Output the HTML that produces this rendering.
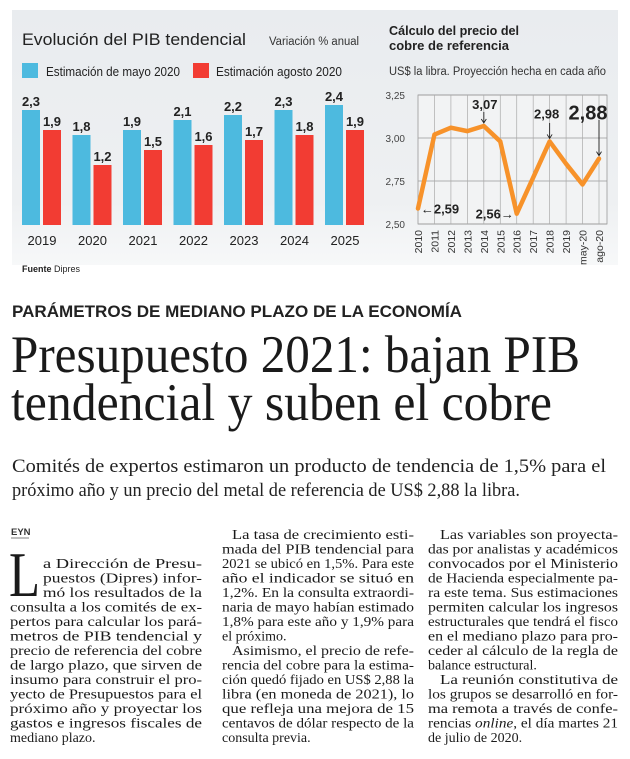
<!DOCTYPE html>
<html><head><meta charset="utf-8">
<style>
html,body{margin:0;padding:0;background:#fff;width:630px;height:759px;overflow:hidden}
svg{display:block}
.sans{font-family:"Liberation Sans",sans-serif}
.serif{font-family:"Liberation Serif",serif}
</style></head>
<body>
<svg id="page" width="630" height="759" viewBox="0 0 630 759" xmlns="http://www.w3.org/2000/svg">
  <defs>
    <linearGradient id="bgg" x1="0" y1="0" x2="0" y2="1">
      <stop offset="0" stop-color="#e9ecef"/><stop offset="0.75" stop-color="#eef0f2"/><stop offset="1" stop-color="#f7f8f9"/>
    </linearGradient>
  </defs>
  <rect x="12" y="10" width="606" height="255" fill="url(#bgg)"/>

  <g id="barchart" class="sans">
    <text x="22" y="45" font-size="17" fill="#222" textLength="224" lengthAdjust="spacingAndGlyphs">Evolución del PIB tendencial</text>
    <text x="269" y="45" font-size="11.5" fill="#333" textLength="90" lengthAdjust="spacingAndGlyphs">Variación % anual</text>
    <rect x="22" y="63" width="16" height="15" fill="#4dbadf"/>
    <text x="46" y="76" font-size="12.5" fill="#222" textLength="134" lengthAdjust="spacingAndGlyphs">Estimación de mayo 2020</text>
    <rect x="193" y="63" width="16" height="15" fill="#f23c33"/>
    <text x="216" y="76" font-size="12.5" fill="#222" textLength="126" lengthAdjust="spacingAndGlyphs">Estimación agosto 2020</text>
    <g id="bars"></g>
    <text x="22" y="272" font-size="9" fill="#222"><tspan font-weight="bold">Fuente</tspan> Dipres</text>
  </g>

  <g id="linechart" class="sans">
    <text x="389" y="35" font-size="13" font-weight="bold" fill="#222" textLength="130" lengthAdjust="spacingAndGlyphs">Cálculo del precio del</text>
    <text x="389" y="50" font-size="13" font-weight="bold" fill="#222" textLength="120" lengthAdjust="spacingAndGlyphs">cobre de referencia</text>
    <text x="389" y="75" font-size="11.5" fill="#333" textLength="217" lengthAdjust="spacingAndGlyphs">US$ la libra. Proyección hecha en cada año</text>
    <g id="lineplot"></g>
  </g>

  <text class="sans" x="12" y="317" font-size="17" font-weight="bold" fill="#222" textLength="450" lengthAdjust="spacingAndGlyphs">PARÁMETROS DE MEDIANO PLAZO DE LA ECONOMÍA</text>
  <text class="serif" x="11" y="372" font-size="53" fill="#1a1a1a" textLength="569" lengthAdjust="spacingAndGlyphs">Presupuesto 2021: bajan PIB</text>
  <text class="serif" x="11" y="420" font-size="53" fill="#1a1a1a" textLength="541" lengthAdjust="spacingAndGlyphs">tendencial y suben el cobre</text>
  <text class="serif" x="12" y="472" font-size="18.5" fill="#222" textLength="594" lengthAdjust="spacingAndGlyphs">Comités de expertos estimaron un producto de tendencia de 1,5% para el</text>
  <text class="serif" x="12" y="496" font-size="18.5" fill="#222" textLength="508" lengthAdjust="spacingAndGlyphs">próximo año y un precio del metal de referencia de US$ 2,88 la libra.</text>

  <text class="sans" x="11" y="535" font-size="9.5" font-weight="bold" fill="#333">EYN</text>
  <line x1="11" y1="538" x2="29" y2="538" stroke="#555" stroke-width="0.7"/>
  <text class="serif" x="9" y="596" font-size="64" fill="#1a1a1a" textLength="31" lengthAdjust="spacingAndGlyphs">L</text>
  <g id="body" class="serif" font-size="14" fill="#1a1a1a"></g>
</svg>

<script>
const years = ["2019","2020","2021","2022","2023","2024","2025"];
const mayValues = [2.3, 1.8, 1.9, 2.1, 2.2, 2.3, 2.4];
const augValues = [1.9, 1.2, 1.5, 1.6, 1.7, 1.8, 1.9];
const mayLabels = ["2,3","1,8","1,9","2,1","2,2","2,3","2,4"];
const augLabels = ["1,9","1,2","1,5","1,6","1,7","1,8","1,9"];

const copperCats = ["2010","2011","2012","2013","2014","2015","2016","2017","2018","2019","may-20","ago-20"];
const copperValues = [2.59, 3.02, 3.06, 3.04, 3.07, 2.98, 2.56, 2.77, 2.98, 2.85, 2.73, 2.88];
const copperTicks = [2.50, 2.75, 3.00, 3.25];
const copperTickLabels = ["2,50","2,75","3,00","3,25"];

const NS = "http://www.w3.org/2000/svg";
function mk(tag, attrs, parent){
  const e = document.createElementNS(NS, tag);
  for (const k in attrs) e.setAttribute(k, attrs[k]);
  parent.appendChild(e); return e;
}

(function(){
  const g = document.getElementById("bars");
  const base = 225, unit = 50, x0 = 22, pitch = 50.5, bw = 18;
  const yS = v => base - v * unit;
  years.forEach((yr, i) => {
    const gx = x0 + i * pitch;
    const b1 = mk("rect", {x: gx, y: yS(mayValues[i]), width: bw, height: base - yS(mayValues[i]), fill: "#4dbadf"}, g);
    
    
    const b2 = mk("rect", {x: gx + 21, y: yS(augValues[i]), width: bw, height: base - yS(augValues[i]), fill: "#f23c33"}, g);
    
    
    const l1 = mk("text", {x: gx + bw/2, y: yS(mayValues[i]) - 4, "font-size": 13, "font-weight": "bold", fill: "#222", "text-anchor": "middle"}, g);
    l1.textContent = mayLabels[i];
    
    
    const l2 = mk("text", {x: gx + 21 + bw/2, y: yS(augValues[i]) - 4, "font-size": 13, "font-weight": "bold", fill: "#222", "text-anchor": "middle"}, g);
    l2.textContent = augLabels[i];
    
    
    const t = mk("text", {x: gx + 20, y: 245, "font-size": 13, fill: "#222", "text-anchor": "middle"}, g);
    t.textContent = yr;
    
    
  });
})();

(function(){
  const g = document.getElementById("lineplot");
  const left = 418, right = 607, top = 95, bottom = 224;
  const vmin = 2.5, vmax = 3.25;
  const step = (599 - left) / (copperCats.length - 1);
  const xS = i => left + i * step;
  const yS = v => bottom - (v - vmin) / (vmax - vmin) * (bottom - top);
  const bg = mk("rect", {x: left, y: top, width: right-left, height: bottom-top, fill: "#f2f3f4", stroke: "#999", "stroke-width": 0.8}, g);
  
  
  copperTicks.forEach((v, k) => {
    const gl = mk("line", {x1: left, x2: right, y1: yS(v), y2: yS(v), stroke: "#999", "stroke-width": 0.8}, g);
    
    
    const t = mk("text", {x: 405, y: yS(v) + 4, "font-size": 10, fill: "#444", "text-anchor": "end"}, g);
    t.textContent = copperTickLabels[k];
    
    
  });
  copperCats.forEach((c, i) => {
    const gl = mk("line", {x1: xS(i), x2: xS(i), y1: top, y2: bottom, stroke: "#aaa", "stroke-width": 0.7}, g);
    
    
    const t = mk("text", {x: 0, y: 0, "font-size": 10.5, fill: "#333", "text-anchor": "end", transform: "translate(" + (xS(i) + 4) + "," + (bottom + 6) + ") rotate(-90)"}, g);
    t.textContent = c;
    
    
  });
  const pts = copperValues.map((v, i) => xS(i) + "," + yS(v)).join(" ");
  const pl = mk("polyline", {points: pts, fill: "none", stroke: "#f7922a", "stroke-width": 4.5, "stroke-linejoin": "round", "stroke-linecap": "round"}, g);
  
  

  function ann(i, label, dx, dy, size, name){
    const t = mk("text", {x: xS(i) + dx, y: yS(copperValues[i]) + dy, "font-size": size, "font-weight": "bold", fill: "#222", "text-anchor": "middle"}, g);
    t.textContent = label;
    
    
  }
  function arrowDown(i, y1, name){
    const x = xS(i), y2 = yS(copperValues[i]) - 3;
    const a = mk("path", {d: "M" + x + "," + y1 + " L" + x + "," + y2 + " M" + (x-2.5) + "," + (y2-4) + " L" + x + "," + y2 + " L" + (x+2.5) + "," + (y2-4), stroke: "#222", "stroke-width": 0.9, fill: "none"}, g);
    
    
  }
  ann(0, "←2,59", 22, 5, 13, "annotation-2010");
  ann(4, "3,07", 1, -17, 13, "annotation-2014");
  arrowDown(4, 112, "arrow-2014");
  ann(6, "2,56→", -22, 5, 13, "annotation-2016");
  ann(8, "2,98", -3, -23, 13, "annotation-2018");
  arrowDown(8, 123, "arrow-2018");
  ann(11, "2,88", -11, -39, 20, "annotation-ago-20");
  arrowDown(11, 120, "arrow-ago-20");
})();

const col1 = [
  ["a Dirección de Presu-",43,202,2,1],["puestos (Dipres) infor-",43,202,3,1],["mó los resultados de la",43,202,4,1],
  ["consulta a los comités de ex-",10,202,5,1],["pertos para calcular los pará-",10,202,6,1],["metros de PIB tendencial y",10,202,7,1],
  ["precio de referencia del cobre",10,202,8,1],["de largo plazo, que sirven de",10,202,9,1],["insumo para construir el pro-",10,202,10,1],
  ["yecto de Presupuestos para el",10,202,11,1],["próximo año y proyectar los",10,202,12,1],["gastos e ingresos fiscales de",10,202,13,1],
  ["mediano plazo.",10,0,14,0]
];
const col2 = [
  ["La tasa de crecimiento esti-",232,414,0,1],["mada del PIB tendencial para",222,414,1,1],["2021 se ubicó en 1,5%. Para este",222,414,2,1],
  ["año el indicador se situó en",222,414,3,1],["1,2%. En la consulta extraordi-",222,414,4,1],["naria de mayo habían estimado",222,414,5,1],
  ["1,8% para este año y 1,9% para",222,414,6,1],["el próximo.",222,0,7,0],["Asimismo, el precio de refe-",232,414,8,1],
  ["rencia del cobre para la estima-",222,414,9,1],["ción quedó fijado en US$ 2,88 la",222,414,10,1],["libra (en moneda de 2021), lo",222,414,11,1],
  ["que refleja una mejora de 15",222,414,12,1],["centavos de dólar respecto de la",222,414,13,1],["consulta previa.",222,0,14,0]
];
const col3 = [
  ["Las variables son proyecta-",440,618,0,1],["das por analistas y académicos",428,618,1,1],["convocados por el Ministerio",428,618,2,1],
  ["de Hacienda especialmente pa-",428,618,3,1],["ra este tema. Sus estimaciones",428,618,4,1],["permiten calcular los ingresos",428,618,5,1],
  ["estructurales que tendrá el fisco",428,618,6,1],["en el mediano plazo para pro-",428,618,7,1],["ceder al cálculo de la regla de",428,618,8,1],
  ["balance estructural.",428,0,9,0],["La reunión constitutiva de",440,618,10,1],["los grupos se desarrolló en for-",428,618,11,1],
  ["ma remota a través de confe-",428,618,12,1],["rencias <i>online</i>, el día martes 21",428,618,13,1],["de julio de 2020.",428,0,14,0]
];
(function(){
  const g = document.getElementById("body");
  [col1, col2, col3].forEach((col, ci) => {
    col.forEach((ln, li) => {
      const [txt, x, xr, row, just] = ln;
      const t = mk("text", {x: x, y: 539 + row * 14.5}, g);
      if (just) { t.setAttribute("textLength", xr - x); t.setAttribute("lengthAdjust", "spacingAndGlyphs"); }
      if (txt.indexOf("<i>") >= 0) {
        const parts = txt.split(/<\/?i>/);
        parts.forEach((p, k) => { const s = mk("tspan", k === 1 ? {"font-style": "italic"} : {}, t); s.textContent = p; });
      } else t.textContent = txt;
      
      
    });
  });
})();
</script>
</body></html>
